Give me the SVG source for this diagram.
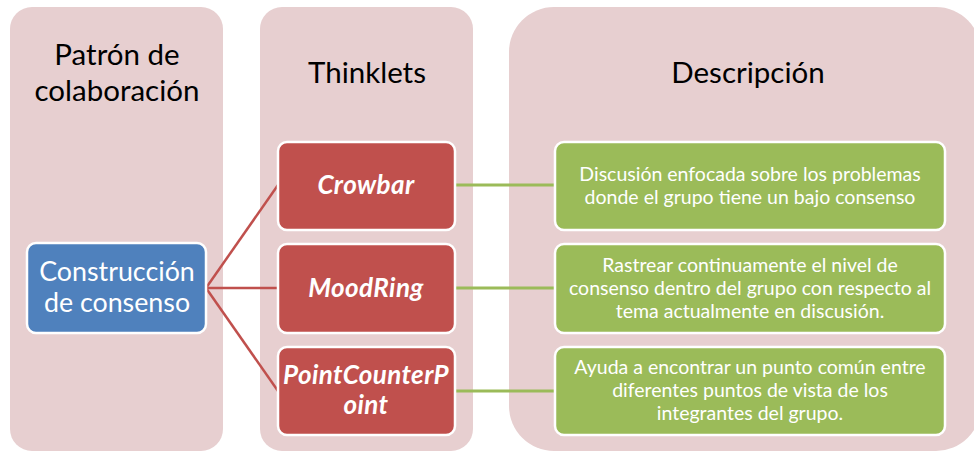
<svg xmlns="http://www.w3.org/2000/svg" width="974" height="451" viewBox="0 0 974 451">
  <style>
    .col { fill: #E7CFD0; }
    .hdr { font-family: Lato, "Liberation Sans", sans-serif; font-size: 29.5px; fill: #000; text-anchor: middle; }
    .box { stroke: #fff; stroke-width: 2.5; }
    .blue { fill: #4F81BD; }
    .red { fill: #C0504D; }
    .green { fill: #9BBB59; }
    .lbl { font-family: Lato, "Liberation Sans", sans-serif; fill: #fff; text-anchor: middle; }
    .big { font-size: 26.8px; }
    .thk { font-size: 26px; font-weight: bold; font-style: italic; letter-spacing: 0.4px; }
    .desc { font-size: 19.5px; }
    .red-link { stroke: #C0504D; stroke-width: 2.5; fill: none; }
    .green-link { stroke: #9BBB59; stroke-width: 3; fill: none; }
  </style>

  <!-- background columns -->
  <g id="col-patron">
    <rect class="col" x="10" y="7" width="213" height="444" rx="22"/>
    <text class="hdr" x="117" y="65">Patrón de</text>
    <text class="hdr" x="117" y="101">colaboración</text>
  </g>
  <g id="col-thinklets">
    <rect class="col" x="260" y="7" width="213" height="444" rx="22"/>
    <text class="hdr" x="367" y="83">Thinklets</text>
  </g>
  <g id="col-descripcion">
    <rect class="col" x="509" y="7" width="472" height="444" rx="45"/>
    <text class="hdr" x="748" y="83">Descripción</text>
  </g>

  <!-- connectors -->
  <g id="connectors">
    <line class="red-link" x1="206" y1="288" x2="278" y2="185"/>
    <line class="red-link" x1="206" y1="288" x2="278" y2="288"/>
    <line class="red-link" x1="206" y1="288" x2="278" y2="391"/>
    <line class="green-link" x1="455" y1="185" x2="555" y2="185"/>
    <line class="green-link" x1="455" y1="288" x2="555" y2="288"/>
    <line class="green-link" x1="455" y1="391" x2="555" y2="391"/>
  </g>

  <!-- pattern node -->
  <g id="construccion">
    <rect class="box blue" x="27" y="243" width="179" height="90" rx="9"/>
    <text class="lbl big" x="117" y="281">Construcción</text>
    <text class="lbl big" x="117" y="312">de consenso</text>
  </g>

  <!-- thinklet nodes -->
  <g id="crowbar">
    <rect class="box red" x="278" y="142" width="177" height="88" rx="9"/>
    <text class="lbl thk" x="366" y="194">Crowbar</text>
  </g>
  <g id="moodring">
    <rect class="box red" x="278" y="244" width="177" height="89" rx="9"/>
    <text class="lbl thk" x="366" y="297">MoodRing</text>
  </g>
  <g id="pointcounterpoint">
    <rect class="box red" x="278" y="347" width="177" height="88" rx="9"/>
    <text class="lbl thk" x="366" y="384">PointCounterP</text>
    <text class="lbl thk" x="366" y="414">oint</text>
  </g>

  <!-- description nodes -->
  <g id="desc-crowbar">
    <rect class="box green" x="555" y="142" width="390" height="88" rx="9"/>
    <text class="lbl desc" x="750" y="181">Discusión enfocada sobre los problemas</text>
    <text class="lbl desc" x="750" y="204">donde el grupo tiene un bajo consenso</text>
  </g>
  <g id="desc-moodring">
    <rect class="box green" x="555" y="244" width="390" height="89" rx="9"/>
    <text class="lbl desc" x="750" y="272">Rastrear continuamente el nivel de</text>
    <text class="lbl desc" x="750" y="295">consenso dentro del grupo con respecto al</text>
    <text class="lbl desc" x="750" y="318">tema actualmente en discusión.</text>
  </g>
  <g id="desc-pointcounterpoint">
    <rect class="box green" x="555" y="347" width="390" height="88" rx="9"/>
    <text class="lbl desc" x="750" y="374">Ayuda a encontrar un punto común entre</text>
    <text class="lbl desc" x="750" y="397">diferentes puntos de vista de los</text>
    <text class="lbl desc" x="750" y="420">integrantes del grupo.</text>
  </g>
</svg>
